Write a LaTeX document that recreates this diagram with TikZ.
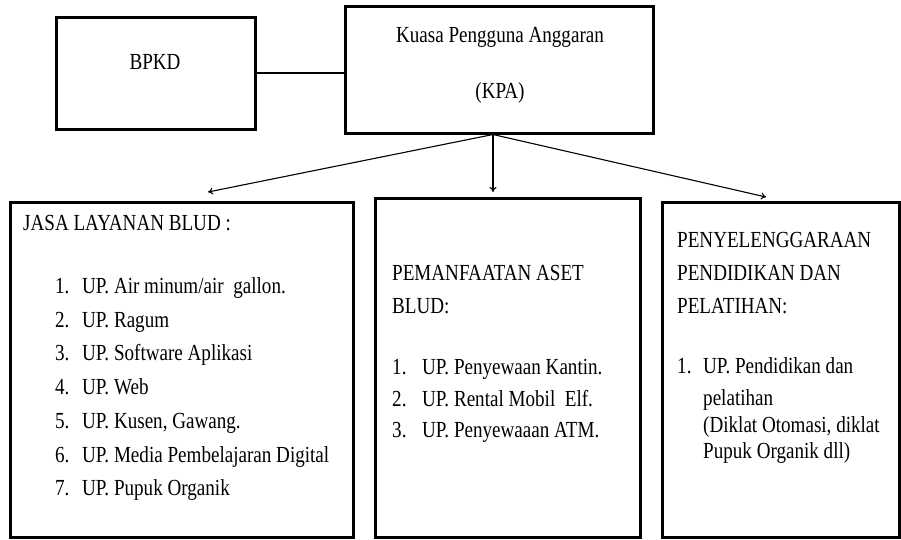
\documentclass[tikz,border=0pt]{standalone}
\usepackage{fontspec}
\setmainfont{Liberation Serif}[FakeStretch=0.83]
\usetikzlibrary{arrows.meta}

\tikzset{
	unitbox/.style = {draw, line width=3pt, inner sep=0pt},
	txt/.style = {anchor=base west, inner sep=0pt},
	link/.style = {line width=1.1pt},
	pointer/.style = {line width=1.1pt, -{To[length=5pt, width=7pt]}}
}
\newcommand{\listno}[2][27pt]{\makebox[#1][l]{#2}}

\begin{document}
\begin{tikzpicture}[x=1pt, y=-1pt, font=\fontsize{23}{27}\selectfont]
		\useasboundingbox (0,0) rectangle (901,539);

		% boxes
		\node (BPKD)   [unitbox, minimum width=199pt, minimum height=112pt] at (155.5,73)  {};
		\node (KPA)    [unitbox, minimum width=308pt, minimum height=127pt] at (499,69.5)  {};
		\node (Jasa)   [unitbox, minimum width=343pt, minimum height=335pt] at (181.5,369.5) {};
		\node (Aset)   [unitbox, minimum width=265pt, minimum height=339pt] at (507.5,368) {};
		\node (Diklat) [unitbox, minimum width=237pt, minimum height=335pt] at (780.5,369.5) {};

		% texts at the top
		\node (BPKDtext) [txt, anchor=base] at (155,69) {BPKD};
		\node (KPAname)  [txt, anchor=base] at (500,42) {Kuasa Pengguna Anggaran};
		\node (KPAshort) [txt, anchor=base] at (500,98) {(KPA)};

		% jasa layanan
		\node (JasaHead) [txt] at (23,230) {JASA LAYANAN BLUD :};
		\node (Jasa1) [txt] at (55,293) {\listno{1.}UP. Air minum/air\ \ gallon.};
		\node (Jasa2) [txt] at (55,327) {\listno{2.}UP. Ragum};
		\node (Jasa3) [txt] at (55,360) {\listno{3.}UP. Software Aplikasi};
		\node (Jasa4) [txt] at (55,394) {\listno{4.}UP. Web};
		\node (Jasa5) [txt] at (55,428) {\listno{5.}UP. Kusen, Gawang.};
		\node (Jasa6) [txt] at (55,462) {\listno{6.}UP. Media Pembelajaran Digital};
		\node (Jasa7) [txt] at (55,495) {\listno{7.}UP. Pupuk Organik};

		% pemanfaatan aset
		\node (AsetHead1) [txt] at (392,280) {PEMANFAATAN ASET};
		\node (AsetHead2) [txt] at (392,313) {BLUD:};
		\node (Aset1) [txt] at (392,374) {\listno[30pt]{1.}UP. Penyewaan Kantin.};
		\node (Aset2) [txt] at (392,406) {\listno[30pt]{2.}UP. Rental Mobil\ \ Elf.};
		\node (Aset3) [txt] at (392,437) {\listno[30pt]{3.}UP. Penyewaaan ATM.};

		% pendidikan dan pelatihan
		\node (DiklatHead1) [txt] at (677,247) {PENYELENGGARAAN};
		\node (DiklatHead2) [txt] at (677,280) {PENDIDIKAN DAN};
		\node (DiklatHead3) [txt] at (677,313) {PELATIHAN:};
		\node (Diklat1)  [txt] at (677,373) {\listno[26pt]{1.}UP. Pendidikan dan};
		\node (Diklat1b) [txt] at (703,405) {pelatihan};
		\node (Diklat1c) [txt] at (703,432) {(Diklat Otomasi, diklat};
		\node (Diklat1d) [txt] at (703,458) {Pupuk Organik dll)};

		% connectors
		\coordinate (fork)     at ([xshift=-6pt]KPA.south);
		\coordinate (toJasa)   at (208,192);
		\coordinate (toAset)   at (fork |- 0,192);
		\coordinate (toDiklat) at (766,197);
		\draw [link] (BPKD.east) -- (BPKD.east -| KPA.west);
		\draw [pointer] (fork) -- (toJasa);
		\draw [pointer] (fork) -- (toAset);
		\draw [pointer] (fork) -- (toDiklat);
	\end{tikzpicture}
\end{document}
